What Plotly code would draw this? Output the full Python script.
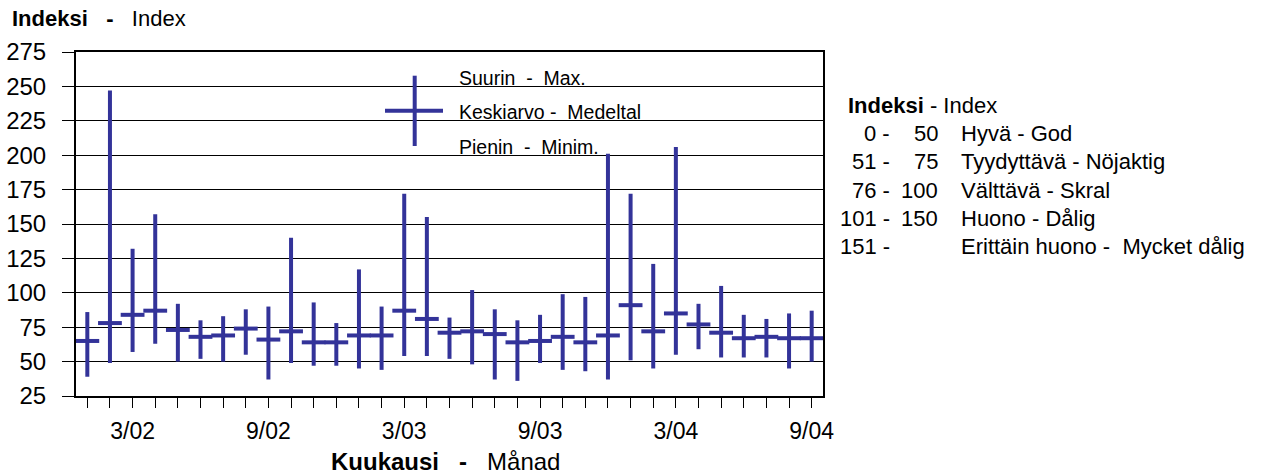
import plotly.graph_objects as go

months = ["1/02", "2/02", "3/02", "4/02", "5/02", "6/02", "7/02", "8/02", "9/02", "10/02", "11/02", "12/02",
          "1/03", "2/03", "3/03", "4/03", "5/03", "6/03", "7/03", "8/03", "9/03", "10/03", "11/03", "12/03",
          "1/04", "2/04", "3/04", "4/04", "5/04", "6/04", "7/04", "8/04", "9/04"]
shown_labels = ["3/02", "9/02", "3/03", "9/03", "3/04", "9/04"]

max_vals = [86, 247, 132, 157, 92, 80, 83, 88, 90, 140, 93, 78, 117, 90, 172, 155, 82, 102, 88, 80,
            84, 99, 97, 201, 172, 121, 206, 92, 105, 84, 81, 85, 87]
mean_vals = [65, 78, 84, 87, 73, 68, 69, 74, 66, 72, 64, 64, 69, 69, 87, 81, 71, 72, 70, 64,
             65, 68, 64, 69, 91, 72, 85, 77, 71, 67, 68, 67, 67]
min_vals = [39, 49, 57, 63, 50, 52, 50, 55, 37, 49, 47, 47, 45, 44, 54, 54, 52, 48, 37, 36,
            49, 44, 43, 37, 51, 45, 55, 59, 53, 53, 53, 45, 50]

y_ticks = [25, 50, 75, 100, 125, 150, 175, 200, 225, 250, 275]

legend_rows = [("0 -", "50", "Hyvä - God"),
               ("51 -", "75", "Tyydyttävä - Nöjaktig"),
               ("76 -", "100", "Välttävä - Skral"),
               ("101 -", "150", "Huono - Dålig"),
               ("151 -", "", "Erittäin huono -\u00a0 Mycket dålig")]

COLOR = "#333399"
FONT = "Liberation Sans, Arial, sans-serif"
NB = "\u00a0"

x_idx = list(range(len(months)))
fig = go.Figure()
fig.add_trace(go.Scatter(
    x=x_idx, y=mean_vals, mode="markers",
    marker=dict(symbol="line-ew", size=17, line=dict(width=4, color=COLOR), color=COLOR),
    error_y=dict(type="data", symmetric=False,
                 array=[mx - m for mx, m in zip(max_vals, mean_vals)],
                 arrayminus=[m - mn for m, mn in zip(mean_vals, min_vals)],
                 thickness=4, width=0, color=COLOR),
    showlegend=False, hoverinfo="skip"))

ticktext = [m if m in shown_labels else "" for m in months]

fig.update_layout(
    width=1277, height=474,
    margin=dict(l=76, r=454, t=52, b=78),
    paper_bgcolor="white", plot_bgcolor="white",
    font=dict(family=FONT, color="black", size=22),
    xaxis=dict(range=[-0.5, 32.5], tickvals=x_idx, ticktext=ticktext, ticks="outside",
               ticklen=10, tickwidth=1, tickcolor="black", showgrid=False, zeroline=False,
               showline=True, linecolor="black", linewidth=2, mirror=True, automargin=False,
               tickfont=dict(size=23), ticklabelstandoff=3),
    yaxis=dict(range=[25, 275], tickvals=y_ticks, ticks="outside", ticklen=12, tickwidth=1,
               tickcolor="black", showgrid=True, gridcolor="black", gridwidth=1, zeroline=False,
               showline=True, linecolor="black", linewidth=2, mirror=True, automargin=False,
               tickfont=dict(size=24), ticklabelstandoff=11),
)

def px_x(px):
    return (px - 76) / 747.0

def px_y(py):
    return (396 - py) / 344.0

ann = []
ann.append(dict(x=px_x(10), y=px_y(18), xref="paper", yref="paper", xanchor="left", yanchor="middle",
                text="<b>Indeksi" + NB * 2 + " -</b>" + NB * 2 + " Index", showarrow=False, font=dict(size=22)))
ann.append(dict(x=px_x(445), y=px_y(461), xref="paper", yref="paper", xanchor="center", yanchor="middle",
                text="<b>Kuukausi" + NB * 2 + " -</b>" + NB * 2 + " Månad", showarrow=False, font=dict(size=24)))

# in-plot key
for txt, py in [("Suurin" + NB + " -" + NB + " Max.", 78.3), ("Keskiarvo -" + NB + " Medeltal", 111.7),
                ("Pienin" + NB + " -" + NB + " Minim.", 146.7)]:
    ann.append(dict(x=px_x(457), y=px_y(py), xref="paper", yref="paper", xanchor="left", yanchor="middle",
                    text=txt, showarrow=False, font=dict(size=19.5)))

# right-hand index table
row_y = [133.3, 161.7, 190, 218.3, 246.7]
ann.append(dict(x=px_x(846), y=px_y(105), xref="paper", yref="paper", xanchor="left", yanchor="middle",
                text="<b>Indeksi</b> - Index", showarrow=False, font=dict(size=22)))
for (a, b, c), py in zip(legend_rows, row_y):
    ann.append(dict(x=px_x(892), y=px_y(py), xref="paper", yref="paper", xanchor="right", yanchor="middle",
                    text=a, showarrow=False, font=dict(size=22)))
    if b:
        ann.append(dict(x=px_x(940), y=px_y(py), xref="paper", yref="paper", xanchor="right", yanchor="middle",
                        text=b, showarrow=False, font=dict(size=22)))
    ann.append(dict(x=px_x(959), y=px_y(py), xref="paper", yref="paper", xanchor="left", yanchor="middle",
                    text=c, showarrow=False, font=dict(size=22)))

fig.update_layout(annotations=ann)

shapes = [
    dict(type="line", xref="paper", yref="paper", x0=px_x(414.7), x1=px_x(414.7), y0=px_y(75.7), y1=px_y(146),
         line=dict(color=COLOR, width=4)),
    dict(type="line", xref="paper", yref="paper", x0=px_x(385), x1=px_x(443), y0=px_y(110.7), y1=px_y(110.7),
         line=dict(color=COLOR, width=4)),
]
fig.update_layout(shapes=shapes)

fig.write_html("out.html", config={"displayModeBar": False},
               post_script="document.body.style.margin='0px';")
